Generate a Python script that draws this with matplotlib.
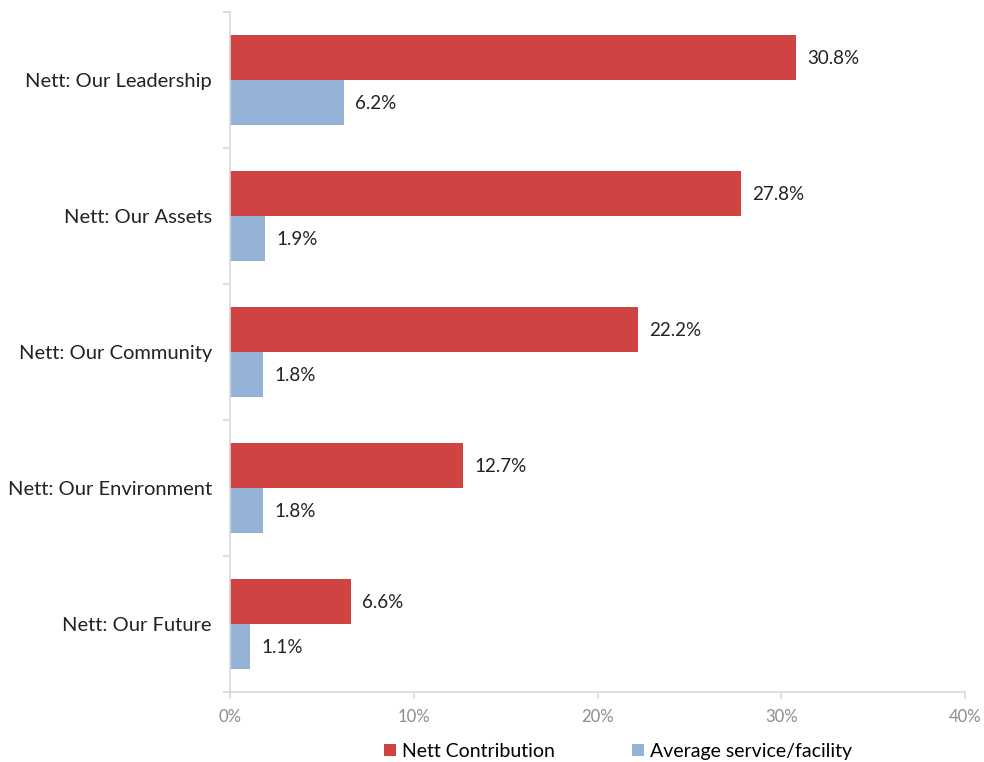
import matplotlib.pyplot as plt
import numpy as np

# datos del gráfico
categorias = ['Nett: Our Leadership', 'Nett: Our Assets', 'Nett: Our Community',
              'Nett: Our Environment', 'Nett: Our Future']
nett_contribution = [30.8, 27.8, 22.2, 12.7, 6.6]
average_service = [6.2, 1.9, 1.8, 1.8, 1.1]
x_ticks = [0, 10, 20, 30, 40]

color_rojo = '#D04343'
color_azul = '#95B3D7'
color_eje = '#D9D9D9'

plt.rcParams['font.family'] = ['Lato', 'DejaVu Sans']

fig = plt.figure(figsize=(9.84, 7.62), dpi=100)
ax = fig.add_axes([230 / 984, 1 - 692 / 762, 735 / 984, 680 / 762])

y = np.arange(len(categorias))
alto = 0.33
b1 = ax.barh(y - alto / 2, nett_contribution, height=alto, color=color_rojo, label='Nett Contribution')
b2 = ax.barh(y + alto / 2, average_service, height=alto, color=color_azul, label='Average service/facility')

# etiquetas de valores
for barras, valores in [(b1, nett_contribution), (b2, average_service)]:
    for rect, v in zip(barras, valores):
        ax.text(v + 0.6, rect.get_y() + rect.get_height() / 2 + 0.01, f'{v:.1f}%',
                va='center', ha='left', fontsize=13.5, color='#222222')

ax.set_xlim(0, 40)
ax.set_ylim(len(categorias) - 0.5, -0.5)
ax.set_xticks(x_ticks)
ax.set_xticklabels([f'{t}%' for t in x_ticks], color='#8C8C8C', fontsize=12)
ax.set_yticks(y)
ax.set_yticklabels(categorias, fontsize=14.5, color='#222222')
ax.set_yticks(np.arange(len(categorias) + 1) - 0.5, minor=True)

ax.tick_params(axis='y', which='major', length=0, pad=13)
ax.tick_params(axis='y', which='minor', length=5, color=color_eje, width=1.2)
ax.tick_params(axis='x', length=5, color=color_eje, width=1.2, pad=7)

for lado in ['top', 'right']:
    ax.spines[lado].set_visible(False)
for lado in ['left', 'bottom']:
    ax.spines[lado].set_color(color_eje)
    ax.spines[lado].set_linewidth(1.2)

fig.legend(handles=[b1, b2], loc='lower center', bbox_to_anchor=(0.628, -0.02), ncol=2,
           frameon=False, fontsize=14, handlelength=0.6, handleheight=0.6,
           handletextpad=0.3, columnspacing=4.0)

fig.savefig('out.png', dpi=100)
